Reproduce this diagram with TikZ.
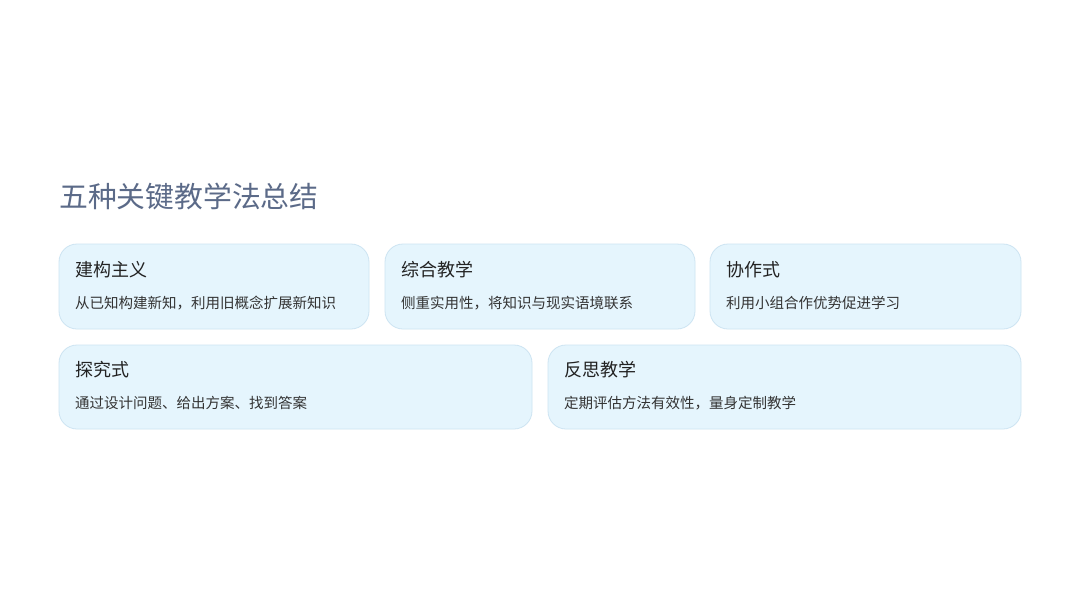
\documentclass[tikz,border=0pt]{standalone}
\usepackage{fontspec}
\newfontfamily\cjk{Noto Sans CJK SC}
\definecolor{titlec}{HTML}{5B6A88}
\definecolor{boxfill}{HTML}{E5F5FD}
\definecolor{boxline}{HTML}{CDE4F2}
\definecolor{headc}{HTML}{222222}
\definecolor{descc}{HTML}{333333}
\tikzset{
  card/.style={draw=boxline, fill=boxfill, line width=0.8pt, rounded corners=18pt},
  cardhead/.style={anchor=west, inner sep=0pt, text=headc, font=\cjk\fontsize{18}{20}\selectfont},
  carddesc/.style={anchor=west, inner sep=0pt, text=descc, font=\cjk\fontsize{14.5}{16}\selectfont},
  maintitle/.style={anchor=west, inner sep=0pt, text=titlec, font=\cjk\fontsize{28.8}{32}\selectfont}
}
\begin{document}
\begin{tikzpicture}[x=1pt,y=-1pt]
\useasboundingbox[fill=white] (0,0) rectangle (1080,608);
\node[maintitle] (title) at (59,196) {五种关键教学法总结};
% row 1
\draw[card] (59,244) rectangle (369,329);
\node[cardhead] (h1) at (75,270) {建构主义};
\node[carddesc] (d1) at (75,303) {从已知构建新知，利用旧概念扩展新知识};
\draw[card] (385,244) rectangle (695,329);
\node[cardhead] (h2) at (401,270) {综合教学};
\node[carddesc] (d2) at (401,303) {侧重实用性，将知识与现实语境联系};
\draw[card] (710,244) rectangle (1021,329);
\node[cardhead] (h3) at (726,270) {协作式};
\node[carddesc] (d3) at (726,303) {利用小组合作优势促进学习};
% row 2
\draw[card] (59,345) rectangle (532,429);
\node[cardhead] (h4) at (75,370) {探究式};
\node[carddesc] (d4) at (75,403) {通过设计问题、给出方案、找到答案};
\draw[card] (548,345) rectangle (1021,429);
\node[cardhead] (h5) at (564,370) {反思教学};
\node[carddesc] (d5) at (564,403) {定期评估方法有效性，量身定制教学};
\end{tikzpicture}
\end{document}
